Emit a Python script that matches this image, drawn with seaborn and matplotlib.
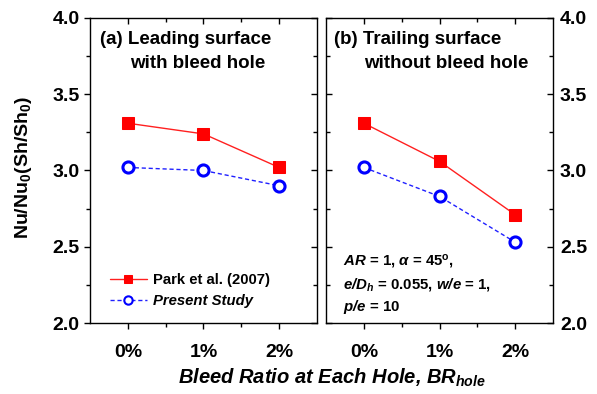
import matplotlib
matplotlib.use("Agg")
import matplotlib.pyplot as plt
from matplotlib.ticker import MultipleLocator, FixedLocator
import seaborn as sns
import pandas as pd

categories = ["0%", "1%", "2%"]
lead_park = [3.31, 3.24, 3.02]
lead_present = [3.02, 3.00, 2.90]
trail_park = [3.31, 3.06, 2.71]
trail_present = [3.02, 2.83, 2.53]
series_names = ["Park et al. (2007)", "Present Study"]
yticks = [2.0, 2.5, 3.0, 3.5, 4.0]

sns.set_theme(style="white")
plt.rcParams['font.family'] = ['Liberation Sans', 'DejaVu Sans']
plt.rcParams['font.weight'] = 'bold'
plt.rcParams['text.color'] = 'black'
plt.rcParams['axes.labelcolor'] = 'black'
plt.rcParams['xtick.color'] = 'black'
plt.rcParams['ytick.color'] = 'black'
plt.rcParams['mathtext.fontset'] = 'custom'
plt.rcParams['mathtext.rm'] = 'Liberation Sans:bold'
plt.rcParams['mathtext.bf'] = 'Liberation Sans:bold'
plt.rcParams['mathtext.it'] = 'Liberation Sans:bold:italic'
plt.rcParams['mathtext.sf'] = 'Liberation Sans:bold:italic'

fig = plt.figure(figsize=(5.97, 3.94), dpi=100)
W, H = 597, 394
ax1 = fig.add_axes([90 / W, 1 - 323 / H, 227 / W, 305 / H])
ax2 = fig.add_axes([326 / W, 1 - 323 / H, 227 / W, 305 / H])

x = list(range(len(categories)))

def draw(ax, park, present):
    df = pd.DataFrame({"x": x * 2, "y": park + present,
                       "series": [series_names[0]] * 3 + [series_names[1]] * 3})
    sns.lineplot(data=df[df.series == series_names[0]], x="x", y="y", ax=ax,
                 color="#ff2020", lw=1.0, marker="s", markersize=8,
                 markerfacecolor="#ff0000", markeredgecolor="#ff0000",
                 label=series_names[0], legend=False)
    sns.lineplot(data=df[df.series == series_names[1]], x="x", y="y", ax=ax,
                 color="#2020ff", lw=1.0, linestyle=(0, (3, 2)), marker="o",
                 markersize=8, markerfacecolor="white", markeredgecolor="#0000ff",
                 markeredgewidth=2.2, label=series_names[1], legend=False)
    ax.set_xlim(-0.5, 2.5)
    ax.set_ylim(2.0, 4.0)
    ax.set_xlabel("")
    ax.set_ylabel("")
    ax.xaxis.set_major_locator(FixedLocator(x))
    ax.xaxis.set_minor_locator(FixedLocator([0.5, 1.5]))
    ax.set_xticklabels(categories)
    ax.yaxis.set_major_locator(FixedLocator(yticks))
    ax.yaxis.set_minor_locator(MultipleLocator(0.25))
    for s in ax.spines.values():
        s.set_color("black")
        s.set_linewidth(1.0)
    ax.tick_params(axis="x", which="major", direction="out", length=4, width=1,
                   labelsize=14, pad=11, color="black", bottom=True)
    ax.tick_params(axis="x", which="minor", direction="out", length=3, width=1,
                   color="black", bottom=True)
    top = ax.secondary_xaxis("top")
    top.xaxis.set_major_locator(FixedLocator(x))
    top.xaxis.set_minor_locator(FixedLocator([0.5, 1.5]))
    top.tick_params(which="major", direction="in", length=4, width=1, labeltop=False, color="black")
    top.tick_params(which="minor", direction="in", length=3, width=1, color="black")
    top.spines["top"].set_visible(False)

draw(ax1, lead_park, lead_present)
draw(ax2, trail_park, trail_present)

ax1.tick_params(axis="y", which="major", direction="out", length=4, width=1,
                labelsize=14, color="black", left=True)
ax1.tick_params(axis="y", which="minor", direction="out", length=3, width=1,
                color="black", left=True)
r1 = ax1.secondary_yaxis("right")
r1.yaxis.set_major_locator(FixedLocator(yticks))
r1.yaxis.set_minor_locator(MultipleLocator(0.25))
r1.tick_params(which="major", direction="in", length=4, width=1, labelright=False, color="black")
r1.tick_params(which="minor", direction="in", length=3, width=1, color="black")
r1.spines["right"].set_visible(False)

ax2.yaxis.tick_right()
ax2.tick_params(axis="y", which="major", direction="in", length=4, width=1,
                labelsize=14, color="black", right=True, left=False, pad=5)
ax2.tick_params(axis="y", which="minor", direction="in", length=3, width=1,
                color="black", right=True, left=False)
l2 = ax2.secondary_yaxis("left")
l2.yaxis.set_major_locator(FixedLocator(yticks))
l2.yaxis.set_minor_locator(MultipleLocator(0.25))
l2.tick_params(which="major", direction="in", length=4, width=1, labelleft=False, color="black")
l2.tick_params(which="minor", direction="in", length=3, width=1, color="black")
l2.spines["left"].set_visible(False)

for t in ax1.get_xticklabels() + ax1.get_yticklabels() + ax2.get_xticklabels() + ax2.get_yticklabels():
    t.set_fontweight("bold")

ax1.text(100 / W, 1 - 40 / H, "(a) Leading surface", transform=fig.transFigure,
         ha="left", va="center", fontsize=13.5, fontweight="bold")
ax1.text(130 / W, 1 - 63 / H, "with bleed hole", transform=fig.transFigure,
         ha="left", va="center", fontsize=13.5, fontweight="bold")
ax2.text(334 / W, 1 - 40 / H, "(b) Trailing surface", transform=fig.transFigure,
         ha="left", va="center", fontsize=13.5, fontweight="bold")
ax2.text(364 / W, 1 - 63 / H, "without bleed hole", transform=fig.transFigure,
         ha="left", va="center", fontsize=13.5, fontweight="bold")

leg = ax1.legend(loc="center left", bbox_to_anchor=(0.06, 0.107), frameon=False,
                 fontsize=10.7, handlelength=2.5, handletextpad=0.4, labelspacing=0.45,
                 borderaxespad=0)
for h in leg.get_lines():
    h.set_markersize(6)
    if h.get_marker() == "o":
        h.set_markeredgewidth(1.5)
texts = leg.get_texts()
texts[0].set_fontweight("bold")
texts[1].set_fontweight("bold")
texts[1].set_fontstyle("italic")

ann_lines = [r"$\mathsf{AR}$ = 1, $\alpha$ = 45$^{\rm o}$,",
             r"$\mathsf{e/D}_\mathsf{h}$ = 0.055, $\mathsf{w/e}$ = 1,",
             r"$\mathsf{p/e}$ = 10"]
for i, s in enumerate(ann_lines):
    fig.text(343 / W, 1 - (262 + i * 22.5) / H, s, ha="left", va="center",
             fontsize=10.8, fontweight="bold")

fig.text(23 / W, 1 - 167 / H, r"Nu/Nu$_{\rm 0}$(Sh/Sh$_{\rm 0}$)", rotation=90,
         ha="center", va="center", fontsize=14, fontweight="bold")
fig.text(332 / W, 1 - 378 / H, r"Bleed Ratio at Each Hole, $BR_{hole}$",
         ha="center", va="center", fontsize=14.5, fontweight="bold", fontstyle="italic")

fig.savefig("out.png", dpi=100)
